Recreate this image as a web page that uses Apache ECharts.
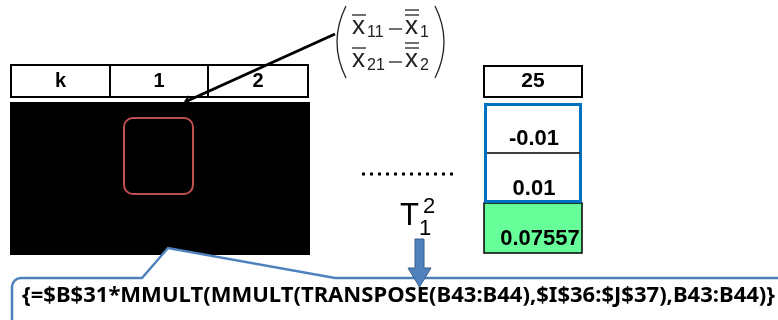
<!DOCTYPE html>
<html>
<head>
<meta charset="UTF-8">
<script src="https://cdn.jsdelivr.net/npm/echarts@6/dist/echarts.min.js"></script>
<style>
  html, body { margin: 0; padding: 0; background: #fff; }
  #main { width: 778px; height: 320px; }
</style>
</head>
<body>
<div id="main"></div>
<script>
// table content
var headerLabels = ['k', '1', '2'];
var lastColLabel = '25';
var diffValues = ['-0.01', '0.01'];
var t2Value = '0.07557';
var formulaText = '{=$B$31*MMULT(MMULT(TRANSPOSE(B43:B44),$I$36:$J$37),B43:B44)}';
var matrixRows = [['11', '1'], ['21', '2']];

var chart = echarts.init(document.getElementById('main'));

var ARIAL = 'Liberation Sans';
var g = [];

function txt(s, x, y, size, opt) {
  opt = opt || {};
  var el = {
    type: 'text',
    z: opt.z || 10,
    style: {
      text: s, x: x, y: y,
      fill: opt.color || '#000',
      fontSize: size,
      fontWeight: opt.weight || 'bold',
      fontFamily: opt.family || ARIAL,
      align: opt.align || 'center', textAlign: opt.align || 'center',
      verticalAlign: 'middle', textVerticalAlign: 'middle'
    }
  };
  if (opt.scaleX) { el.scaleX = opt.scaleX; el.originX = x; el.originY = y; }
  g.push(el);
}
function line(x1, y1, x2, y2, w, c, z) {
  g.push({ type: 'line', z: z || 5, shape: { x1: x1, y1: y1, x2: x2, y2: y2 },
    style: { stroke: c || '#000', lineWidth: w } });
}

// header row k | 1 | 2
var colEdges = [11, 110, 208, 308];
headerLabels.forEach(function (lab, i) {
  g.push({ type: 'rect', z: 2, shape: { x: colEdges[i], y: 65, width: colEdges[i + 1] - colEdges[i], height: 32 },
    style: { fill: '#fff', stroke: '#000', lineWidth: 2 } });
  txt(lab, (colEdges[i] + colEdges[i + 1]) / 2, 81, 20);
});

// black data block with red highlight
g.push({ type: 'rect', z: 1, shape: { x: 10, y: 102, width: 300, height: 153 }, style: { fill: '#000' } });
g.push({ type: 'rect', z: 3, shape: { x: 124, y: 118, width: 69, height: 76, r: 9 },
  style: { fill: 'none', stroke: '#c0504d', lineWidth: 2 } });

// leader line to the matrix
line(185, 102, 335, 34, 3, '#000', 8);
line(185, 102, 189, 96, 2, '#000', 8);

// matrix of differences
var mc = '#222';
g.push({ type: 'bezierCurve', z: 6, shape: { x1: 346, y1: 6, cpx1: 334, cpy1: 30, cpx2: 334, cpy2: 54, x2: 346, y2: 78 },
  style: { stroke: mc, lineWidth: 1.3, fill: 'none' } });
g.push({ type: 'bezierCurve', z: 6, shape: { x1: 435, y1: 6, cpx1: 447, cpy1: 30, cpx2: 447, cpy2: 54, x2: 435, y2: 78 },
  style: { stroke: mc, lineWidth: 1.3, fill: 'none' } });
matrixRows.forEach(function (r, i) {
  var base = 35 + i * 33;
  txt('x', 352, base - 8, 26, { weight: 'normal', align: 'left', color: mc });
  line(352, base - 20, 366, base - 20, 1.3, mc);
  txt(r[0], 367, base - 2, 16, { weight: 'normal', align: 'left', color: mc });
  line(389, base - 6, 402, base - 6, 1.3, mc);
  txt('x', 405, base - 8, 26, { weight: 'normal', align: 'left', color: mc });
  line(405, base - 25, 419, base - 25, 1.3, mc);
  line(405, base - 20, 419, base - 20, 1.3, mc);
  txt(r[1], 420, base - 2, 16, { weight: 'normal', align: 'left', color: mc });
});

// last column 25
g.push({ type: 'rect', z: 2, shape: { x: 484, y: 66, width: 98, height: 31 },
  style: { fill: '#fff', stroke: '#000', lineWidth: 2 } });
txt(lastColLabel, 533, 81, 21);

g.push({ type: 'rect', z: 2, shape: { x: 484, y: 203, width: 98, height: 50 },
  style: { fill: '#66ff99', stroke: '#000', lineWidth: 1.5 } });
g.push({ type: 'rect', z: 3, shape: { x: 485.5, y: 104.5, width: 95, height: 97 },
  style: { fill: '#fff', stroke: '#0070c0', lineWidth: 3 } });
line(487, 153, 580, 153, 1.5, '#000', 4);
txt(diffValues[0], 534, 139, 22);
txt(diffValues[1], 534, 189, 22);
txt(t2Value, 540, 239, 22);

// ellipsis
line(362, 174, 457, 174, 3, '#000', 4);
g[g.length - 1].style.lineDash = [3, 5];

// T1^2
txt('T', 400, 216, 31, { weight: 'normal', align: 'left' });
txt('2', 423, 207, 22, { weight: 'normal', align: 'left' });
txt('1', 419, 229, 22, { weight: 'normal', align: 'left' });

// callout with formula, squeezed to span the box like the original
var fSize = 21, fFam = 'Noto Sans';
var ctx = document.createElement('canvas').getContext('2d');
ctx.font = 'bold ' + fSize + 'px "' + fFam + '"';
var fScale = 753 / ctx.measureText(formulaText).width;

g.push({ type: 'polygon', z: 5, shape: { points: [[142, 278], [168, 248], [335, 278]] },
  style: { fill: '#fff' } });
g.push({ type: 'polyline', z: 6, shape: { points: [[800, 278], [335, 278], [168, 248], [142, 278], [21, 278]] },
  style: { stroke: '#4f81bd', lineWidth: 2.5, fill: 'none' } });
g.push({ type: 'arc', z: 6, shape: { cx: 21, cy: 287, r: 9, startAngle: Math.PI, endAngle: 1.5 * Math.PI },
  style: { stroke: '#4f81bd', lineWidth: 2.5, fill: 'none' } });
line(12, 287, 12, 330, 2.5, '#4f81bd', 6);
txt(formulaText, 22, 296, fSize, { align: 'left', family: fFam, z: 7, scaleX: fScale });

// down arrow
g.push({ type: 'polygon', z: 9,
  shape: { points: [[415, 239], [424, 239], [424, 268], [431, 268], [419.5, 287], [408, 268], [415, 268]] },
  style: { fill: '#4f81bd', stroke: '#385d8a', lineWidth: 1 } });

chart.setOption({ animation: false, graphic: g });
</script>
</body>
</html>
